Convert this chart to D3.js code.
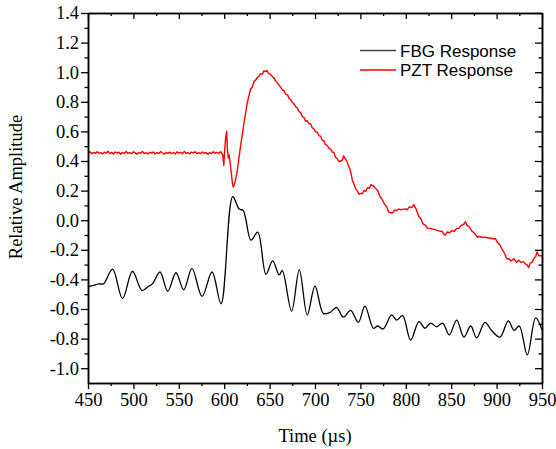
<!DOCTYPE html>
<html>
<head>
<meta charset="utf-8">
<script src="https://cdn.jsdelivr.net/npm/d3@7"></script>
<style>
  html, body { margin: 0; padding: 0; background: #fff; }
  svg { display: block; }
</style>
</head>
<body>
<svg id="chart" width="556" height="449"></svg>
<script>
// Time axis (µs) and amplitude axis ticks
const xMajorTicks = [450, 500, 550, 600, 650, 700, 750, 800, 850, 900, 950];
const xMinorTicks = [475, 525, 575, 625, 675, 725, 775, 825, 875, 925];
const yMajorTicks = [-1.0, -0.8, -0.6, -0.4, -0.2, 0.0, 0.2, 0.4, 0.6, 0.8, 1.0, 1.2, 1.4];
const yTickLabels = ["-1.0", "-0.8", "-0.6", "-0.4", "-0.2", "0.0", "0.2", "0.4", "0.6", "0.8", "1.0", "1.2", "1.4"];
const yMinorTicks = [-0.9, -0.7, -0.5, -0.3, -0.1, 0.1, 0.3, 0.5, 0.7, 0.9, 1.1, 1.3];

const seriesNames = ["FBG Response", "PZT Response"];
const seriesColors = ["#000000", "#ff0000"];

// FBG response: [time µs, relative amplitude] at turning points of the oscillation
const fbgPoints = [
  [450, -0.45], [456, -0.44], [462, -0.43], [467, -0.43], [477, -0.33], [488, -0.53],
  [499, -0.345], [509.5, -0.475], [517, -0.445], [521, -0.43], [529.3, -0.35], [537.8, -0.48],
  [546.9, -0.355], [555.4, -0.47], [564.5, -0.325], [575.6, -0.515], [586.6, -0.35], [596.5, -0.565],
  [609.4, 0.16], [616.5, 0.075], [621, 0.065], [629.5, -0.135], [636.9, -0.08], [646, -0.365],
  [653.4, -0.275], [660.5, -0.37], [664, -0.34], [674.2, -0.615], [682.7, -0.335], [691.5, -0.64],
  [700, -0.445], [709.2, -0.63], [716, -0.625], [723.8, -0.59], [731.2, -0.655], [739.2, -0.61],
  [747.7, -0.69], [755, -0.58], [764.3, -0.73], [769, -0.715], [775, -0.735], [784.4, -0.64],
  [789.9, -0.675], [796.5, -0.645], [805.3, -0.81], [814.5, -0.685], [821.1, -0.73], [827.4, -0.695],
  [834, -0.72], [840.5, -0.695], [847.9, -0.775], [856, -0.675], [864, -0.79], [871.5, -0.715],
  [878, -0.795], [887.2, -0.69], [894.5, -0.745], [903.7, -0.79], [912.9, -0.68], [919.2, -0.745],
  [925, -0.715], [933.8, -0.91], [943, -0.66], [950, -0.74]
];

// PZT response: [time µs, relative amplitude], noisy sampled trace
const pztPoints = [
  [450, 0.455], [452, 0.462], [454, 0.449], [456, 0.458], [458, 0.451], [460, 0.463], [462, 0.452],
  [464, 0.457], [466, 0.447], [468, 0.460], [470, 0.453], [472, 0.466], [474, 0.450], [476, 0.458],
  [478, 0.448], [480, 0.461], [482, 0.454], [484, 0.459], [486, 0.446], [488, 0.457], [490, 0.452],
  [492, 0.464], [494, 0.451], [496, 0.456], [498, 0.449], [500, 0.462], [502, 0.455], [504, 0.447],
  [506, 0.458], [508, 0.452], [510, 0.465], [512, 0.450], [514, 0.456], [516, 0.448], [518, 0.459],
  [520, 0.453], [522, 0.461], [524, 0.449], [526, 0.457], [528, 0.451], [530, 0.463], [532, 0.454],
  [534, 0.446], [536, 0.458], [538, 0.452], [540, 0.460], [542, 0.450], [544, 0.457], [546, 0.447],
  [548, 0.462], [550, 0.453], [552, 0.458], [554, 0.449], [556, 0.465], [558, 0.452], [560, 0.457],
  [562, 0.448], [564, 0.460], [566, 0.454], [568, 0.462], [570, 0.450], [572, 0.456], [574, 0.449],
  [576, 0.461], [578, 0.452], [580, 0.458], [582, 0.446], [584, 0.457], [586, 0.451], [588, 0.463],
  [590, 0.453], [592, 0.459], [594, 0.450], [596, 0.462], [597, 0.455],
  [598.5, 0.44], [599.5, 0.37], [600.5, 0.47], [601.5, 0.55], [602.7, 0.60], [603.5, 0.48],
  [604.5, 0.42], [605.5, 0.44], [606.5, 0.39], [608, 0.31], [609, 0.25], [610, 0.225], [611, 0.24],
  [612, 0.26], [613, 0.29], [614.3, 0.33], [616, 0.41], [618, 0.50], [620, 0.58], [621.6, 0.65],
  [623.5, 0.72], [625.3, 0.79], [627, 0.835], [629, 0.885], [631, 0.90], [633, 0.94], [634.5, 0.945],
  [636.5, 0.965], [638, 0.97], [640, 0.99], [642, 0.985], [643.5, 1.008], [645.5, 1.005], [647, 1.012],
  [649, 0.99], [651, 0.985], [653, 0.97], [655, 0.96], [656.5, 0.94], [658.4, 0.93], [660, 0.915],
  [662, 0.90], [664, 0.88], [665.7, 0.875], [668, 0.85], [670, 0.845], [671.5, 0.82], [673, 0.818],
  [675, 0.795], [677, 0.785], [679, 0.765], [680.4, 0.76], [682.5, 0.735], [684.5, 0.725], [686, 0.70],
  [687.7, 0.695], [689.5, 0.67], [691.5, 0.672], [693, 0.655], [695.2, 0.65], [697, 0.625], [699, 0.615],
  [700.7, 0.595], [702.5, 0.595], [704.5, 0.57], [706.2, 0.568], [708, 0.54], [710, 0.535], [711.5, 0.51],
  [713.5, 0.505], [715.5, 0.485], [717.5, 0.48], [719, 0.46], [720.8, 0.458], [722.5, 0.425],
  [724.5, 0.415], [726.5, 0.395], [728.2, 0.40], [730, 0.405], [731.5, 0.435], [733, 0.42],
  [735, 0.40], [737.3, 0.36], [739, 0.335], [741, 0.275], [742.8, 0.245], [745, 0.21], [747, 0.195],
  [748.5, 0.175], [750, 0.18], [752, 0.18], [754, 0.20], [755.7, 0.195], [758, 0.22], [760, 0.215],
  [761.5, 0.24], [763, 0.235], [765, 0.228], [766.7, 0.215], [769, 0.20], [771.5, 0.16], [774, 0.14],
  [776.5, 0.11], [779, 0.09], [781, 0.055], [783.2, 0.05], [785.5, 0.05], [788, 0.07], [790, 0.064],
  [792.3, 0.076], [795, 0.07], [797.5, 0.075], [800, 0.076], [801.5, 0.07], [804, 0.09], [806.5, 0.085],
  [808.9, 0.105], [811, 0.08], [812.5, 0.055], [814.4, 0.025], [816.5, 0.01], [819, -0.025],
  [821.7, -0.035], [824, -0.055], [826.5, -0.055], [829, -0.06], [830.9, -0.06], [833, -0.065],
  [835.5, -0.07], [838, -0.075], [840, -0.075], [842, -0.095], [843.7, -0.10], [845.5, -0.08],
  [848, -0.085], [851, -0.07], [853.5, -0.075], [856, -0.055], [858.3, -0.055], [861, -0.035],
  [863.5, -0.03], [865.7, -0.01], [867.5, -0.035], [870, -0.045], [873, -0.075], [875.5, -0.085],
  [878.5, -0.115], [881, -0.11], [884, -0.115], [887.6, -0.115], [890.5, -0.12], [893, -0.12],
  [896, -0.125], [898.6, -0.125], [901, -0.15], [903.5, -0.165], [905.9, -0.195], [908.5, -0.22],
  [911, -0.26], [913.2, -0.26], [916, -0.275], [919, -0.26], [922, -0.285], [924.2, -0.27],
  [927, -0.285], [929.5, -0.28], [931.6, -0.295], [933.5, -0.30], [935.3, -0.32], [937, -0.29],
  [939, -0.285], [941, -0.26], [943, -0.245], [944.6, -0.215], [946.5, -0.24], [948.5, -0.24], [950, -0.245]
];

const svg = d3.select("#chart");
const margin = { left: 88, right: 14, top: 13, bottom: 66 };
const W = 556, H = 449;
const x = d3.scaleLinear().domain([450, 950]).range([margin.left, W - margin.right]);
const y = d3.scaleLinear().domain([-1.1, 1.4]).range([H - margin.bottom, margin.top]);

const serif = "'Liberation Serif', 'Times New Roman', serif";
const sans = "'Liberation Sans', Arial, sans-serif";

// Data lines
svg.append("path")
  .datum(pztPoints)
  .attr("fill", "none")
  .attr("stroke", seriesColors[1])
  .attr("stroke-width", 1.4)
  .attr("stroke-linejoin", "round")
  .attr("d", d3.line().x(d => x(d[0])).y(d => y(d[1])).curve(d3.curveLinear));
svg.append("path")
  .datum(fbgPoints)
  .attr("fill", "none")
  .attr("stroke", seriesColors[0])
  .attr("stroke-width", 1.3)
  .attr("d", d3.line().x(d => x(d[0])).y(d => y(d[1])).curve(d3.curveCatmullRom.alpha(0.5)));

// Axes
function styleAxis(g) {
  g.selectAll(".domain").attr("stroke", "#000").attr("stroke-width", 1.5);
  g.selectAll(".tick line").attr("stroke", "#000").attr("stroke-width", 1.3);
  g.selectAll(".tick text").attr("fill", "#000").style("font-family", serif).style("font-size", "18.5px");
}
const plotBottom = H - margin.bottom, plotTop = margin.top, plotLeft = margin.left, plotRight = W - margin.right;

// bottom: labelled, ticks outward
svg.append("g").attr("transform", `translate(0,${plotBottom})`)
  .call(d3.axisBottom(x).tickValues(xMajorTicks).tickSize(6).tickSizeOuter(0).tickPadding(4).tickFormat(d3.format("d")))
  .call(styleAxis);
svg.append("g").attr("transform", `translate(0,${plotBottom})`)
  .call(d3.axisBottom(x).tickValues(xMinorTicks).tickSize(3).tickSizeOuter(0).tickFormat(""))
  .call(styleAxis);
// top: mirrored ticks inward
svg.append("g").attr("transform", `translate(0,${plotTop})`)
  .call(d3.axisBottom(x).tickValues(xMajorTicks).tickSize(6).tickSizeOuter(0).tickFormat(""))
  .call(styleAxis);
svg.append("g").attr("transform", `translate(0,${plotTop})`)
  .call(d3.axisBottom(x).tickValues(xMinorTicks).tickSize(3).tickSizeOuter(0).tickFormat(""))
  .call(styleAxis);
// left: labelled, ticks outward
svg.append("g").attr("transform", `translate(${plotLeft},0)`)
  .call(d3.axisLeft(y).tickValues(yMajorTicks).tickSize(7).tickSizeOuter(0).tickPadding(2)
    .tickFormat((d, i) => yTickLabels[i]))
  .call(styleAxis);
svg.append("g").attr("transform", `translate(${plotLeft},0)`)
  .call(d3.axisLeft(y).tickValues(yMinorTicks).tickSize(3.5).tickSizeOuter(0).tickFormat(""))
  .call(styleAxis);
// right: mirrored ticks inward
svg.append("g").attr("transform", `translate(${plotRight},0)`)
  .call(d3.axisLeft(y).tickValues(yMajorTicks).tickSize(7).tickSizeOuter(0).tickFormat(""))
  .call(styleAxis);
svg.append("g").attr("transform", `translate(${plotRight},0)`)
  .call(d3.axisLeft(y).tickValues(yMinorTicks).tickSize(3.5).tickSizeOuter(0).tickFormat(""))
  .call(styleAxis);

// Axis titles
svg.append("text")
  .attr("x", (plotLeft + plotRight) / 2).attr("y", 442)
  .attr("text-anchor", "middle")
  .style("font-family", serif).style("font-size", "18.5px")
  .text("Time (\u00b5s)");
svg.append("text")
  .attr("transform", `translate(22,187) rotate(-90)`)
  .attr("text-anchor", "middle")
  .style("font-family", serif).style("font-size", "18.5px")
  .text("Relative Amplitude");

// Legend
const legend = svg.append("g");
seriesNames.forEach((name, i) => {
  const ly = 50.5 + i * 19.5;
  legend.append("line")
    .attr("x1", 360).attr("x2", 396).attr("y1", ly).attr("y2", ly)
    .attr("stroke", i === 0 ? "#444" : seriesColors[1]).attr("stroke-width", 1.3);
  legend.append("text")
    .attr("x", 400).attr("y", ly + 6)
    .style("font-family", sans).style("font-size", "17px")
    .text(name);
});
</script>
</body>
</html>
